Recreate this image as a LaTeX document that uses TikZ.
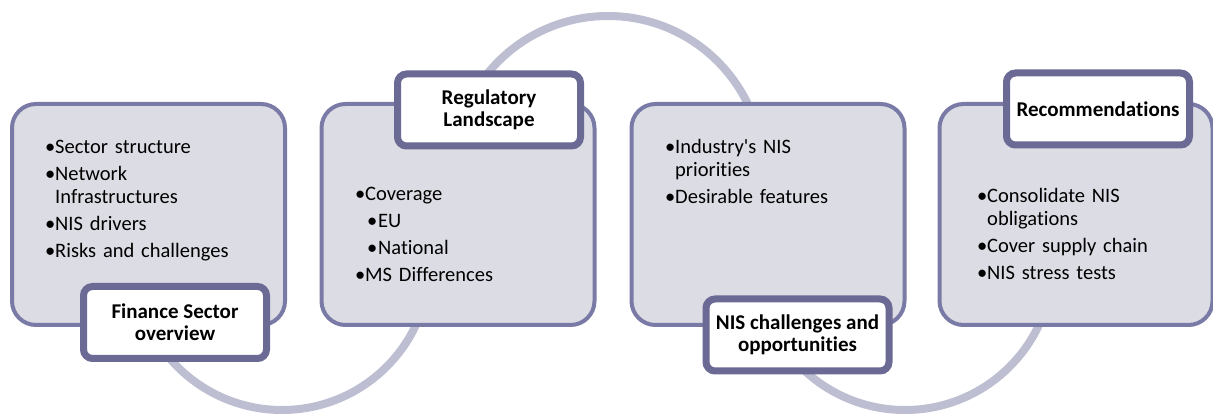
\documentclass[tikz,border=0pt]{standalone}
\usepackage{fontspec}
\setmainfont{Carlito}[Ligatures={TeXOff,CommonOff}]
\usetikzlibrary{shadows}
\definecolor{boxfill}{RGB}{220,220,228}
\definecolor{boxline}{RGB}{122,122,166}
\definecolor{labline}{RGB}{106,106,148}
\definecolor{arcline}{RGB}{190,190,210}
\newcommand{\bitem}[1]{\par\hangindent=10pt\hangafter=1\noindent\rule{0pt}{16pt}\makebox[10pt][l]{\textbullet}#1\par}
\newcommand{\bsub}[1]{\par\hangindent=23pt\hangafter=1\noindent\rule{0pt}{16pt}\hspace*{12pt}\makebox[11pt][l]{\textbullet}#1\par}
\begin{document}
\begin{tikzpicture}[x=1pt,y=-1pt,
  bigbox/.style={draw=boxline, line width=4pt, fill=boxfill, rounded corners=24pt, inner sep=0pt, minimum width=273pt, minimum height=221pt},
  labbox/.style={draw=labline, line width=7pt, fill=white, rounded corners=9pt, inner sep=0pt, minimum width=183pt, minimum height=72pt, font=\fontsize{21}{22}\selectfont\bfseries, align=center, drop shadow={opacity=0.3, shadow xshift=2pt, shadow yshift=-3pt}},
  arcpath/.style={draw=arcline, line width=8pt},
  itemtext/.style={anchor=north west, inner sep=0pt, text width=240pt, font=\fontsize{20.5}{23}\selectfont\setlength{\parskip}{4pt}, align=left}]
\useasboundingbox (0,0) rectangle (1213,419);
% arc centres
\coordinate (c1) at (282,262);
\coordinate (c2) at (608,171);
\coordinate (c3) at (905,262);
\draw[arcpath] (c1) ++(180:148) arc[start angle=180, end angle=0, radius=148];
\draw[arcpath] (c2) ++(180:155) arc[start angle=180, end angle=360, radius=155];
\draw[arcpath] (c3) ++(180:148) arc[start angle=180, end angle=0, radius=148];
% main boxes
\node[bigbox] (b1) at (148.5,214.5) {};
\node[bigbox] (b2) at (458,214.5) {};
\node[bigbox] (b3) at (768,214.5) {};
\node[bigbox] (b4) at (1076,214.5) {};
% labels
\node[labbox] (l1) at (175,322.5) {Finance Sector\\overview};
\node[labbox] (l2) at (489,110) {Regulatory\\Landscape};
\node[labbox] (l3) at (797.5,335) {NIS challenges and\\opportunities};
\node[labbox] (l4) at (1098,109) {Recommendations};
% bullet texts
\node[itemtext] (t1) at (45,126) {\bitem{Sector structure}\bitem{Network\newline Infrastructures}\bitem{NIS drivers}\bitem{Risks and challenges}};
\node[itemtext] (t2) at (355,173) {\bitem{Coverage}\bsub{EU}\bsub{National}\bitem{MS Differences}};
\node[itemtext] (t3) at (665,126) {\bitem{Industry's NIS\newline priorities}\bitem{Desirable features}};
\node[itemtext] (t4) at (977,175) {\bitem{Consolidate NIS\newline obligations}\bitem{Cover supply chain}\bitem{NIS stress tests}};
\end{tikzpicture}
\end{document}
